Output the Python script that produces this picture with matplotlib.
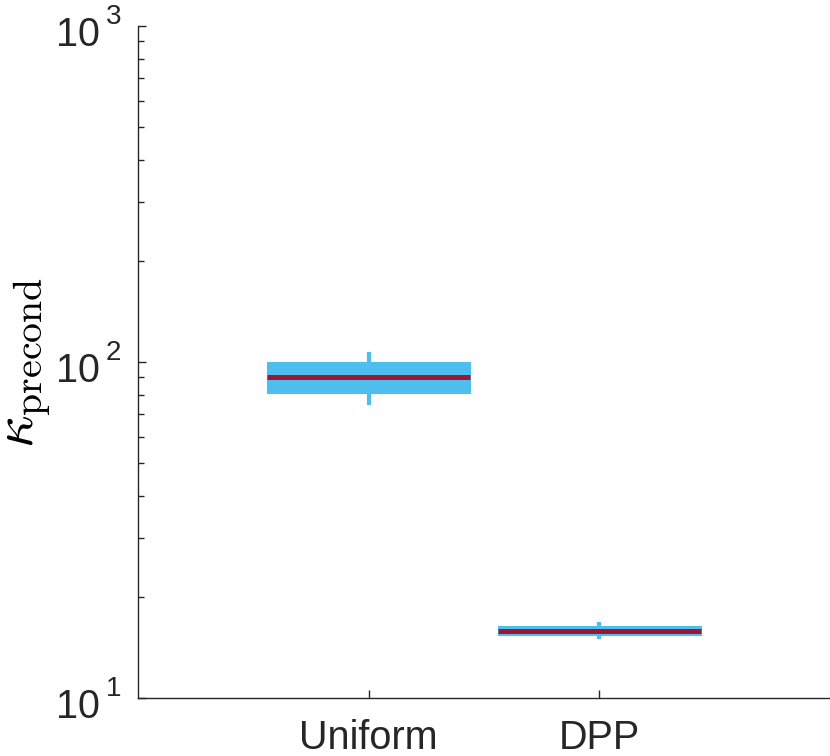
import matplotlib
matplotlib.use('Agg')
import matplotlib.pyplot as plt
import matplotlib.transforms as mtransforms
import numpy as np

# box statistics
groups = ['Uniform', 'DPP']
q1 = [80.9, 15.4]
med = [90.4, 15.86]
q3 = [100.0, 16.38]
whislo = [75.5, 15.19]
whishi = [105.7, 16.57]
ytick_exps = [1, 2, 3]

blue = '#4DBEEE'
red = '#A2142F'
axcol = '#262626'

plt.rcParams['font.family'] = ['Liberation Sans', 'DejaVu Sans']

fig = plt.figure(figsize=(8.3, 7.56), dpi=100)
ax = fig.add_axes([138 / 830, 58 / 756, 692 / 830, 672 / 756])

stats = []
for i, g in enumerate(groups):
    stats.append(dict(label=g, q1=q1[i], med=med[i], q3=q3[i],
                      whislo=whislo[i], whishi=whishi[i], fliers=[]))

ax.bxp(stats, positions=[1, 2], widths=0.88, patch_artist=True,
       showcaps=False, showfliers=False,
       boxprops=dict(facecolor=blue, edgecolor=blue, linewidth=0.8),
       whiskerprops=dict(color=blue, linewidth=3),
       medianprops=dict(color=red, linewidth=3.6, solid_capstyle='butt'))

ax.set_yscale('log')
ax.set_ylim(10, 1000)
ax.set_xlim(0, 3)

for s in ['top', 'right']:
    ax.spines[s].set_visible(False)
for s in ['left', 'bottom']:
    ax.spines[s].set_color(axcol)
    ax.spines[s].set_linewidth(1.0)

ax.tick_params(which='both', direction='in', color=axcol, width=1.0)
ax.tick_params(which='major', length=6)
ax.tick_params(which='minor', length=4)
ax.tick_params(axis='x', labelsize=28.5, pad=15, labelcolor='#262626')
ax.set_xticks([1, 2])
ax.set_xticklabels(groups)

ax.set_yticks([10.0 ** e for e in ytick_exps])
ax.set_yticklabels([''] * len(ytick_exps))

# MATLAB style 10^k labels
trans = mtransforms.blended_transform_factory(ax.transAxes, ax.transData)
for e in ytick_exps:
    t1 = trans + mtransforms.ScaledTranslation(-38 / 100, -9 / 100, fig.dpi_scale_trans)
    ax.text(0, 10.0 ** e, '10', transform=t1, ha='right', va='center',
            fontsize=28.5, color='#262626', clip_on=False)
    t2 = trans + mtransforms.ScaledTranslation(-32 / 100, 9 / 100, fig.dpi_scale_trans)
    ax.text(0, 10.0 ** e, str(e), transform=t2, ha='left', va='center',
            fontsize=20, color='#262626', clip_on=False)

ax.set_ylabel(r'$\kappa_{\mathrm{precond}}$', fontsize=41, math_fontfamily='cm',
              labelpad=58)

fig.savefig('out.png', dpi=100)
